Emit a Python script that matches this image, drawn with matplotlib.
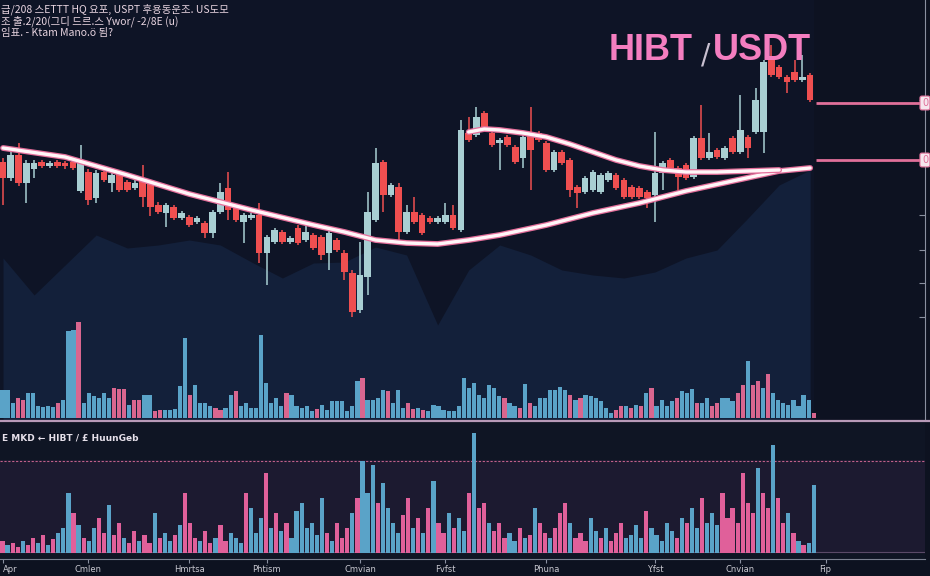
import numpy as np
import matplotlib.pyplot as plt
import matplotlib.patheffects as pe

# ---- data ----
opens  = [238,222,245,217,231,238,234,238,237,238,209,228,202,228,217,227,218,212,222,217,
          195,187,193,182,183,178,177,167,188,212,192,178,182,185,147,158,168,158,172,160,
          165,163,147,160,147,127,90,123,180,238,205,213,168,188,185,182,178,178,185,170,
          267,265,287,267,257,263,253,242,267,267,257,230,248,240,213,208,210,208,220,225,
          220,213,212,208,205,227,240,232,235,223,262,242,250,242,262,248,263,268,268,342,
          333,323,328,320,325]
highs  = [242,248,257,240,240,240,239,240,239,240,255,231,230,230,227,229,220,220,235,220,
          198,197,195,189,185,184,179,190,217,228,194,187,187,197,165,172,170,164,175,175,
          167,165,169,162,150,130,158,208,252,240,217,217,195,203,187,184,184,197,195,280,
          283,293,289,269,262,265,255,265,293,269,259,250,250,242,215,224,230,227,229,227,
          222,215,214,210,268,239,242,234,237,264,295,267,252,254,264,305,265,312,340,355,
          335,325,340,345,327]
lows   = [195,219,214,197,222,232,232,232,231,230,207,195,197,218,208,208,208,210,193,184,
          186,173,180,180,173,176,162,162,186,180,178,157,180,137,115,156,156,156,155,158,
          150,140,130,148,120,83,87,105,178,188,203,160,166,176,165,176,176,176,170,168,
          258,263,271,253,230,253,236,232,210,258,228,228,235,203,192,206,208,206,218,210,
          201,201,201,192,178,210,230,210,220,221,240,240,241,240,246,246,242,266,247,323,
          321,307,318,318,298]
closes = [222,245,217,237,237,234,237,234,234,232,238,200,227,220,225,210,210,217,203,193,
          188,195,182,187,175,182,167,188,208,190,180,185,185,147,163,170,158,162,157,168,
          152,145,167,150,128,88,125,188,237,205,215,168,188,178,167,178,182,185,172,270,
          260,283,273,255,260,255,238,263,250,260,230,248,237,210,207,222,228,225,227,212,
          203,203,203,202,227,237,232,223,222,262,242,248,243,252,248,270,252,300,338,325,
          323,318,320,323,300]

# moving averages (price at candle index)
ma_slow_idx = [0, 8, 16, 24, 32, 40, 44, 48, 52, 56, 60, 64, 70, 76, 82, 88, 94, 100, 104]
ma_slow     = [252, 243, 225, 206, 190, 175, 168, 160, 157, 156, 160, 165, 175, 187, 197, 209, 219, 229, 232]
ma_fast_idx = [60, 62, 64, 67, 70, 73, 76, 79, 82, 85, 88, 92, 96, 100]
ma_fast     = [268, 271, 270, 267, 263, 256, 248, 240, 234, 230, 228, 228, 229, 230]

# shaded background band
band_idx = [0, 4, 8, 12, 16, 20, 24, 28, 32, 36, 40, 44, 48, 52, 56, 60, 64, 68, 72, 76,
            80, 84, 88, 92, 96, 100, 104]
band_top = [142, 105, 135, 165, 152, 155, 160, 155, 138, 122, 137, 138, 153, 145, 75, 130,
            155, 145, 130, 125, 122, 128, 142, 150, 182, 215, 230]

levels = [297, 240]

vol = [28,28,15,20,18,25,25,12,11,12,11,15,18,87,88,96,15,25,22,20,
       25,20,30,29,29,13,18,18,23,23,7,8,8,8,9,32,80,23,33,15,
       15,12,10,8,10,23,27,12,15,10,10,83,35,15,20,12,25,23,12,10,
       12,7,9,13,8,17,17,17,7,12,37,40,18,18,20,28,27,15,28,10,
       15,9,10,8,7,13,12,8,7,7,12,40,30,35,23,20,33,30,22,20,
       15,12,10,34,15,12,20,20,28,28,31,28,23,18,20,23,22,20,17,10,
       5,8,12,12,10,13,12,25,30,12,18,12,17,20,27,25,29,15,15,20,
       12,15,20,20,17,25,33,57,33,37,30,44,25,18,15,13,18,12,23,18,5]
vol_col = ("bbbppbbbbbbpbbbpbbbbbbppp" "bppbbppbbbbbpbbbbppbbpbbb"
           "bbbbbbpbbbbbpbbbbbbbbpbbb" "bpbbbppbpbbbbbbbbbbbbbbbpb"
           "bpbpbbbbbbbpbpbbbbbbppbpb" "pbpbbbbpbbbpbbppbbbppbppb"
           "pbbbbb")

macd = [12,8,10,6,12,8,15,10,18,8,14,20,25,60,40,28,15,12,25,35,
        20,48,18,30,15,10,22,12,18,10,40,15,20,12,18,28,60,30,15,12,
        22,10,15,28,12,20,15,10,60,45,20,35,80,25,40,22,30,15,42,50,
        25,30,18,55,20,12,30,15,25,40,55,92,60,88,50,70,45,30,20,38,
        55,25,35,20,45,72,30,20,40,25,35,22,60,120,45,50,30,22,30,15,
        20,12,25,15,18,45,30,20,15,25,40,50,30,15,20,12,35,22,15,25,
        12,20,30,15,18,28,15,42,25,18,12,30,22,15,35,30,45,25,55,30,
        40,28,60,35,45,30,80,50,40,85,60,45,108,55,30,40,20,12,8,10,68]
macd_col = ("pbppbppbpbpbbbpbpbbppbppbpp" "bppbpbbpbpppbppbppbbbpbbbpb"
            "pbpbbbbbbbpbpppbpbbbpbbbbpp" "bpbpbppbpbbpbppbpppbbpbpbpp"
            "bpppbpppbbpbpppbbbbpbbbbbpb" "pbbpbbbpppppp")

tick_pos = [0, 11, 24, 34, 46, 57, 70, 84, 95, 106]
tick_lab = ["Apr", "Cmlen", "Hmrtsa", "Phtism", "Cmvian", "Fvfst", "Phuna", "Y.fst", "Cnvian", "Fip"]

# ---- style ----
BG = '#0e1426'
NAVY = '#13203a'
RED = '#ef4f50'
TEAL = '#a9cfd3'
PINK = '#d9668f'
BLUE = '#5aa3c8'

XL = (-0.39, 118.8)
fig = plt.figure(figsize=(9.3, 5.76), dpi=100, facecolor='#0d1220')

# main price panel
ax = fig.add_axes([0, 1 - 420 / 576, 925 / 930, 420 / 576])
ax.set_facecolor(BG)
ax.set_xlim(*XL)
ax.set_ylim(-20, 400)

bx = np.array(band_idx, dtype=float)
ax.fill_between(bx, -20, band_top, color=NAVY, lw=0, zorder=1)
ax.axvspan(104.55, XL[1], color='#0d1221', lw=0, zorder=1.5)

o = np.array(opens); c = np.array(closes)
idx = np.arange(len(o))
up = c >= o
cols = np.where(up, TEAL, RED)
ax.vlines(idx, lows, highs, colors=cols, lw=1.1, zorder=3)
body_h = np.maximum(np.abs(c - o), 2)
ax.bar(idx, body_h, bottom=np.minimum(o, c), width=0.86, color=cols, lw=0, zorder=4)

glow = [pe.Stroke(linewidth=4.2, foreground='#e46f9b'), pe.Normal()]
ax.plot(ma_slow_idx, ma_slow, color='#fff6f8', lw=2.4, zorder=5, path_effects=glow,
        solid_capstyle='round')
ax.plot(ma_fast_idx, ma_fast, color='#fff6f8', lw=2.4, zorder=5, path_effects=glow,
        solid_capstyle='round')

for lv in levels:
    ax.hlines(lv, 104.7, 118.3, color='#e0709a', lw=2, zorder=5)
    ax.text(118.4, lv, '0', fontsize=7, color='#e0709a', va='center', ha='left',
            bbox=dict(boxstyle='round,pad=0.2', fc='#f6e6ee', ec='#e0709a', lw=0.8), zorder=6)

for s in ['top', 'left', 'bottom']:
    ax.spines[s].set_visible(False)
ax.spines['right'].set_color('#8a90a0')
ax.set_xticks([])
ax.yaxis.tick_right()
ax.set_yticks([300, 240, 185, 150, 117, 83])
ax.tick_params(axis='y', direction='in', length=4, color='#8a90a0', labelright=False)

# header text
hdr = ["급/208 스ETTT HQ 요포, USPT 후용동운조. US도모",
       "조 출.2/20(그디 드르.스 Ywor/ -2/8E (u)",
       "임표. - Ktam Mano.ö 됨?"]
for k, line in enumerate(hdr):
    fig.text(0.001, 1 - (9 + 12 * k) / 576, line, fontsize=7.5, color='#e8d4e0',
             va='center', ha='left', family=['Noto Sans CJK KR', 'DejaVu Sans'])

fig.text(609 / 930, 1 - 60 / 576, 'HIBT', fontsize=26, fontweight='bold', color='#f47ec0',
         family='Liberation Sans', va='baseline', ha='left')
fig.text(701 / 930, 1 - 63 / 576, '/', fontsize=20, color='#c8c0d0',
         family='DejaVu Sans', va='baseline', ha='left')
fig.text(713 / 930, 1 - 60 / 576, 'USDT', fontsize=26, fontweight='bold', color='#f47ec0',
         family='Liberation Sans', va='baseline', ha='left')

# volume in main panel
axv = fig.add_axes([0, 1 - 418 / 576, 925 / 930, 100 / 576])
axv.set_facecolor('none')
axv.set_xlim(0, 925)
axv.set_ylim(0, 100)
vx = np.arange(len(vol)) * 5.07 + 2.5
axv.bar(vx, vol, width=4.2, color=[BLUE if ch == 'b' else PINK for ch in vol_col], lw=0)
axv.axis('off')

fig.add_artist(plt.Line2D([0, 1], [1 - 421 / 576] * 2, color='#b89ab8', lw=1.6))

# lower indicator panel
axl = fig.add_axes([0, 1 - 559 / 576, 925 / 930, 136 / 576])
axl.set_facecolor('#0f1524')
axl.set_xlim(0, 925)
axl.set_ylim(-6, 130)
axl.axhspan(0, 93, color='#1c1a30', lw=0, zorder=0)
axl.axhline(92, xmin=0, xmax=1, color='#c0608a', lw=0.8, ls=(0, (2, 1.5)), zorder=1)
axl.axhline(1, color='#5a4a68', lw=0.8, zorder=1)
mx = np.arange(len(macd)) * 5.07 + 2.5
axl.bar(mx, macd, width=4.2, color=[BLUE if ch == 'b' else '#e0609a' for ch in macd_col],
        lw=0, zorder=2)
axl.text(2, 115, 'E MKD ← HIBT / £ HuunGeb', fontsize=6.5, color='#e6e0ea',
         va='center', ha='left', fontweight='bold')
for s in ['top', 'left', 'right']:
    axl.spines[s].set_visible(False)
axl.spines['bottom'].set_color('#7a8090')
axl.set_yticks([])
axl.set_xticks([3 + 7.76 * t for t in tick_pos])
axl.set_xticklabels(tick_lab, fontsize=6, color='#c8c8d0')
axl.get_xticklabels()[0].set_horizontalalignment('left')
axl.tick_params(axis='x', length=3, color='#8a90a0', pad=1)

fig.savefig('out.png', dpi=100, facecolor=fig.get_facecolor())
